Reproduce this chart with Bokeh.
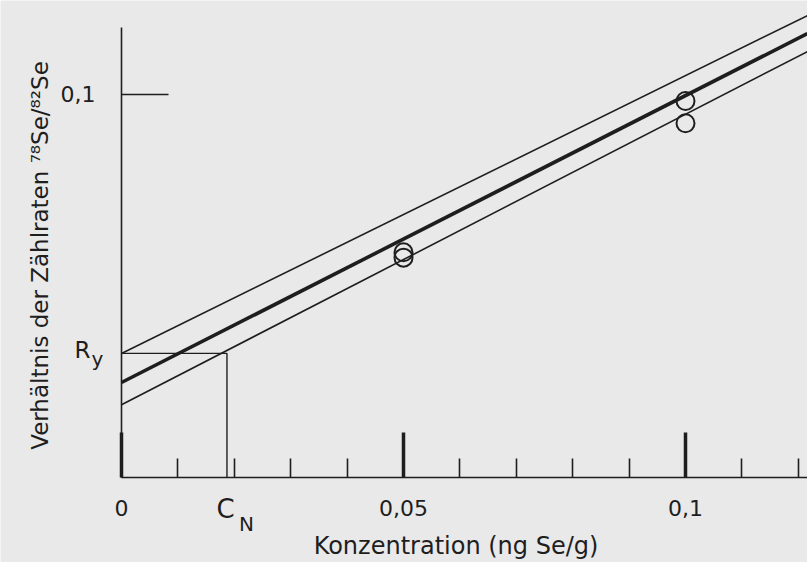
import math
from bokeh.plotting import figure
from bokeh.models import Range1d, FixedTicker, Label
from bokeh.embed import file_html
from bokeh.resources import INLINE

# ---- data ----
conc_points = [0.05, 0.05, 0.10, 0.10]
ratio_points = [0.0588, 0.0574, 0.0983, 0.0925]

band_x = [0.0, 0.1216]
fit_y = [0.0248, 0.1159]
upper_y = [0.0324, 0.1206]
lower_y = [0.0190, 0.1112]

R_y = 0.0324
C_N = 0.0187

x_major = [0, 0.05, 0.1]
x_major_labels = ["0", "0,05", "0,1"]
x_minor = [0.01, 0.02, 0.03, 0.04, 0.06, 0.07, 0.08, 0.09, 0.11, 0.12]
y_major = [0.1]
y_major_labels = ["0,1"]
x_axis_end = 0.1217
y_axis_top = 0.1175

x_title = "Konzentration (ng Se/g)"
y_title = "Verhältnis der Zählraten ⁷⁸Se/⁸²Se"

# ---- styling ----
BG = "#e9e9e9"
INK = "#1e1e1e"
FONT = "DejaVu Sans"

p = figure(width=807, height=562,
           x_range=Range1d(-0.021454, 0.121631),
           y_range=Range1d(-0.022193, 0.124543),
           output_backend="svg", toolbar_location=None,
           min_border=0)
p.background_fill_color = BG
p.border_fill_color = BG
p.outline_line_color = None
p.grid.visible = False

# x axis (drawn through y = 0)
xa = p.xaxis[0]
xa.fixed_location = 0
xa.bounds = (0, x_axis_end)
xa.ticker = FixedTicker(ticks=x_major, minor_ticks=x_minor)
xa.major_label_overrides = {k: v for k, v in zip(x_major, x_major_labels)}
xa.axis_line_color = INK
xa.axis_line_width = 1.6
xa.major_tick_in = 45
xa.major_tick_out = 0
xa.major_tick_line_width = 3.5
xa.major_tick_line_color = INK
xa.minor_tick_in = 19
xa.minor_tick_out = 0
xa.minor_tick_line_width = 1.6
xa.minor_tick_line_color = INK
xa.major_label_text_font = FONT
xa.major_label_text_font_size = "22px"
xa.major_label_text_color = INK
xa.major_label_standoff = 22

# y axis (drawn through x = 0)
ya = p.yaxis[0]
ya.fixed_location = 0
ya.bounds = (0, y_axis_top)
ya.ticker = FixedTicker(ticks=y_major, minor_ticks=[])
ya.major_label_overrides = {k: v for k, v in zip(y_major, y_major_labels)}
ya.axis_line_color = INK
ya.axis_line_width = 1.6
ya.major_tick_in = 47
ya.major_tick_out = 0
ya.major_tick_line_width = 1.6
ya.major_tick_line_color = INK
ya.minor_tick_line_color = None
ya.major_label_text_font = FONT
ya.major_label_text_font_size = "22px"
ya.major_label_text_color = INK
ya.major_label_standoff = 26

# axis titles
p.add_layout(Label(x=0, y=0, x_offset=334.5, y_offset=-68, text=x_title,
                   text_align="center", text_baseline="alphabetic",
                   text_font=FONT, text_font_size="24px", text_color=INK))
p.add_layout(Label(x=0, y=0, x_offset=-82, y_offset=222, text=y_title,
                   angle=math.pi / 2, text_align="center", text_baseline="middle",
                   text_font=FONT, text_font_size="23px", text_color=INK))

# calibration line and confidence band
p.line(band_x, upper_y, line_color=INK, line_width=1.6)
p.line(band_x, lower_y, line_color=INK, line_width=1.6)
p.line(band_x, fit_y, line_color=INK, line_width=3.6)

# R_y / C_N construction
p.line([0, C_N, C_N], [R_y, R_y, 0], line_color=INK, line_width=1.4)

# measured points
p.scatter(conc_points, ratio_points, marker="circle", size=18,
          fill_color=None, line_color=INK, line_width=2)

# labels with subscripts
p.add_layout(Label(x=0, y=R_y, x_offset=-31, y_offset=3, text="R",
                   text_align="right", text_baseline="alphabetic",
                   text_font=FONT, text_font_size="23px", text_color=INK))
p.add_layout(Label(x=0, y=R_y, x_offset=-30, y_offset=-6, text="y",
                   text_align="left", text_baseline="alphabetic",
                   text_font=FONT, text_font_size="20px", text_color=INK))
p.add_layout(Label(x=C_N, y=0, x_offset=-1.5, y_offset=-31, text="C",
                   text_align="center", text_baseline="alphabetic",
                   text_font=FONT, text_font_size="26px", text_color=INK))
p.add_layout(Label(x=C_N, y=0, x_offset=12, y_offset=-46, text="N",
                   text_align="left", text_baseline="alphabetic",
                   text_font=FONT, text_font_size="20px", text_color=INK))

open("out.html", "w").write(file_html(p, INLINE))
